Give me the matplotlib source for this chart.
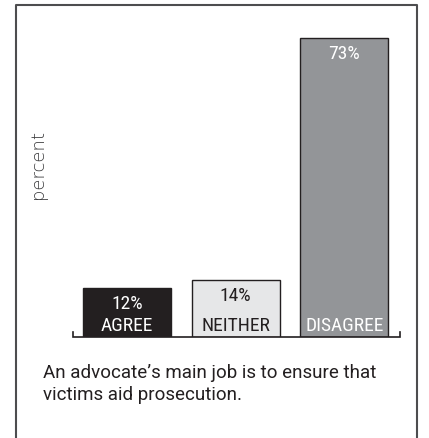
import matplotlib.pyplot as plt
from matplotlib.lines import Line2D

categories = ["AGREE", "NEITHER", "DISAGREE"]
values = [12, 14, 73]
bar_colors = ["#231f20", "#e6e7e8", "#939598"]
text_colors = ["white", "#231f20", "white"]
caption = "An advocate\u2019s main job is to ensure that\nvictims aid prosecution."

narrow = ["Roboto Condensed", "DejaVu Sans"]
regular = ["Roboto", "DejaVu Sans"]
wide = ["DejaVu Sans"]
ink = "#231f20"

W, H = 429, 438
fig = plt.figure(figsize=(W / 100, H / 100), dpi=100)

# axes area in pixel terms: x 16..417, y 5..337 (from top)
ax = fig.add_axes([16 / W, 1 - 337 / H, (417 - 16) / W, (337 - 5) / H])
ax.set_xlim(-1.021, 2.668)
ax.set_ylim(0, 81)
ax.axis("off")

x = range(len(categories))
ax.bar(x, values, width=0.81, color=bar_colors, edgecolor=ink, linewidth=1.0, zorder=2)

for i, (cat, v) in enumerate(zip(categories, values)):
    ax.annotate(f"{v}%", (i, v), xytext=(0, -11.5), textcoords="offset points",
                ha="center", va="center", fontsize=14, color=text_colors[i],
                family=narrow, fontweight="normal", zorder=3)
    ax.annotate(cat, (i, 0), xytext=(0, 8), textcoords="offset points",
                ha="center", va="center", fontsize=14, color=text_colors[i],
                family=narrow, fontweight="normal", zorder=3)

# bracket-shaped baseline
bx0, bx1 = -0.497, 2.511
ax.plot([bx0, bx0, bx1, bx1], [1.2, 0, 0, 1.2], color=ink, lw=1.2,
        clip_on=False, solid_joinstyle="miter", zorder=4)

ax.text(-0.82, 42, "percent", rotation=90, ha="center", va="center",
        fontsize=13, color="#3a3a3c", family=wide, fontweight="light")

# outer frame, open at the bottom
fx0, fx1, fy = 16 / W, 417 / W, 1 - 5 / H
fig.add_artist(Line2D([fx0, fx0, fx1, fx1], [0, fy, fy, 0], color="#4d4d4f",
                      lw=1.5, transform=fig.transFigure))

fig.text(43 / W, 1 - 364 / H, caption, ha="left", va="top", fontsize=13.5,
         color=ink, family=regular, fontweight="normal", linespacing=1.3)

fig.savefig("out.png", dpi=100)
